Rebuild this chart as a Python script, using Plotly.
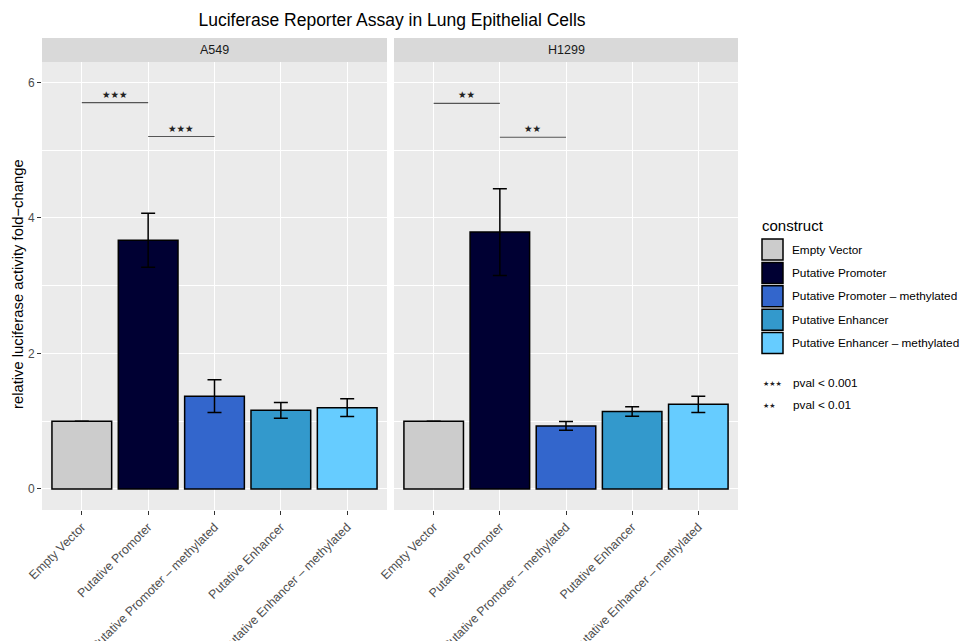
import math
import plotly.graph_objects as go

# ---------------- data ----------------
constructs = ["Empty Vector", "Putative Promoter", "Putative Promoter \u2013 methylated",
              "Putative Enhancer", "Putative Enhancer \u2013 methylated"]
colors = ["#CCCCCC", "#000033", "#3366CC", "#3399CC", "#66CCFF"]
cell_lines = ["A549", "H1299"]
a549_values = [1.00, 3.67, 1.37, 1.16, 1.20]
a549_errors = [float("nan"), 0.40, 0.24, 0.115, 0.13]
h1299_values = [1.00, 3.79, 0.93, 1.145, 1.25]
h1299_errors = [float("nan"), 0.64, 0.065, 0.07, 0.12]
# significance comparisons: (from index, to index, y, label)
a549_sig = [(0, 1, 5.70, "\u2605\u2605\u2605"), (1, 2, 5.20, "\u2605\u2605\u2605")]
h1299_sig = [(0, 1, 5.69, "\u2605\u2605"), (1, 2, 5.19, "\u2605\u2605")]
y_ticks = [0, 2, 4, 6]
sig_legend = [("\u2605\u2605\u2605", "pval < 0.001"), ("\u2605\u2605", "pval < 0.01")]

# ---------------- geometry helpers (pixels -> paper) ----------------
W, H = 965, 641
ML, MR, MT, MB = 42, 227, 38, 131
PW = W - ML - MR
PH = H - MT - MB


def px(x):
    return (x - ML) / PW


def py(y):
    return (H - MB - y) / PH


FONT = "Liberation Sans, Arial, Helvetica, sans-serif"
panel_dom = [[0.0, 345 / PW], [352 / PW, 1.0]]
y_top = py(62)

fig = go.Figure()
datasets = [(a549_values, a549_errors, a549_sig), (h1299_values, h1299_errors, h1299_sig)]
for i, (vals, errs, sigs) in enumerate(datasets):
    xa = "x" if i == 0 else "x2"
    fig.add_trace(go.Bar(
        x=constructs, y=vals, xaxis=xa, yaxis="y",
        width=0.9,
        marker=dict(color=colors, line=dict(color="black", width=1.5)),
        error_y=dict(type="data", array=errs, visible=True, color="black",
                     thickness=1.5, width=7),
        showlegend=False, hoverinfo="x+y",
    ))
    for (a, b, yv, lab) in sigs:
        fig.add_shape(type="line", xref=xa, yref="y",
                      x0=constructs[a], x1=constructs[b], y0=yv, y1=yv,
                      line=dict(color="#555555", width=1.1))
        fig.add_annotation(xref=xa, yref="y", x=(a + b) / 2, y=yv, text=lab,
                           showarrow=False, yanchor="bottom", yshift=1,
                           font=dict(family="DejaVu Sans", size=9.5, color="#222222"))

axis_common = dict(
    type="category", range=[-0.6, 4.6], showgrid=True, gridcolor="white", gridwidth=1.2,
    ticks="outside", ticklen=4, tickcolor="#333333", tickwidth=1, tickangle=-45,
    tickfont=dict(family=FONT, size=12.4, color="#4D4D4D"), zeroline=False,
    showline=False, categoryorder="array", categoryarray=constructs, automargin=False,
)
fig.update_layout(
    width=W, height=H,
    margin=dict(l=ML, r=MR, t=MT, b=MB, pad=0, autoexpand=False),
    paper_bgcolor="white", plot_bgcolor="#EBEBEB",
    bargap=0.1,
    font=dict(family=FONT),
    title=dict(text="Luciferase Reporter Assay in Lung Epithelial Cells",
               x=px(392), xref="paper", xanchor="center",
               y=1 - 20 / H, yanchor="middle",
               font=dict(family=FONT, size=17.5, color="black")),
    xaxis=dict(domain=panel_dom[0], anchor="y", **axis_common),
    xaxis2=dict(domain=panel_dom[1], anchor="y", **axis_common),
    yaxis=dict(domain=[0, y_top], range=[-0.31, 6.3], tickvals=y_ticks,
               showgrid=True, gridcolor="white", gridwidth=1.2, zeroline=False,
               ticks="outside", ticklen=4, tickcolor="#333333", automargin=False,
               tickfont=dict(family=FONT, size=12, color="#4D4D4D"),
               minor=dict(dtick=1, tick0=0, showgrid=True, gridcolor="white", gridwidth=0.6)),
    showlegend=False,
)

# strips
for i, name in enumerate(cell_lines):
    x0, x1 = panel_dom[i]
    fig.add_shape(type="rect", xref="paper", yref="paper", x0=x0, x1=x1, y0=y_top, y1=1.0,
                  fillcolor="#D9D9D9", line=dict(width=0), layer="below")
    fig.add_annotation(xref="paper", yref="paper", x=(x0 + x1) / 2, y=(y_top + 1) / 2,
                       text=name, showarrow=False, xanchor="center", yanchor="middle",
                       font=dict(family=FONT, size=12.5, color="#1A1A1A"))

# y axis title
fig.add_annotation(xref="paper", yref="paper", x=px(18), y=py(284), textangle=-90,
                   text="relative luciferase activity fold\u2212change", showarrow=False,
                   xanchor="center", yanchor="middle",
                   font=dict(family=FONT, size=14.8, color="black"))

# custom legend
fig.add_annotation(xref="paper", yref="paper", x=px(760), y=py(225), text="construct",
                   showarrow=False, xanchor="left", yanchor="middle",
                   font=dict(family=FONT, size=15, color="black"))
for k, (name, col) in enumerate(zip(constructs, colors)):
    top = 238 + k * 23.4
    fig.add_shape(type="rect", xref="paper", yref="paper",
                  x0=px(762), x1=px(783), y0=py(top + 22), y1=py(top + 1),
                  fillcolor=col, line=dict(color="black", width=1.5))
    fig.add_annotation(xref="paper", yref="paper", x=px(790), y=py(top + 11.5), text=name,
                       showarrow=False, xanchor="left", yanchor="middle",
                       font=dict(family=FONT, size=11.8, color="black"))
for k, (stars, lab) in enumerate(sig_legend):
    yc = 383 + k * 22
    fig.add_annotation(xref="paper", yref="paper", x=px(761), y=py(yc + 1), text=stars,
                       showarrow=False, xanchor="left", yanchor="middle",
                       font=dict(family="DejaVu Sans", size=7, color="#222222"))
    fig.add_annotation(xref="paper", yref="paper", x=px(791), y=py(yc), text=lab,
                       showarrow=False, xanchor="left", yanchor="middle",
                       font=dict(family=FONT, size=11.8, color="black"))

fig.write_html("out.html", config={"displayModeBar": False},
               post_script="document.body.style.margin='0';document.body.style.overflow='hidden';")
